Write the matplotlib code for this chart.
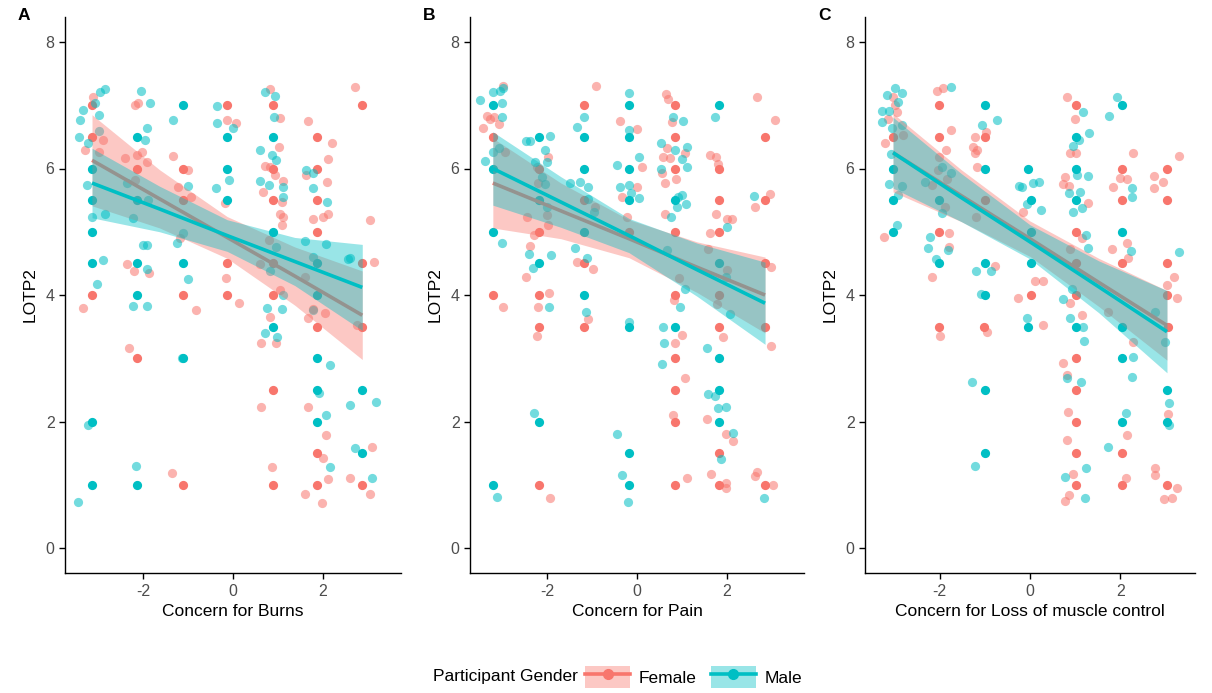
import matplotlib
matplotlib.use("Agg")
import matplotlib.pyplot as plt
from matplotlib.patches import Patch
from matplotlib.lines import Line2D

plt.rcParams["font.family"] = ["Liberation Sans", "DejaVu Sans"]
plt.rcParams["axes.unicode_minus"] = False

FEMALE = "#F8766D"
MALE = "#00BFC4"

# ---------------- data ----------------
# Panel A: Concern for Burns
burns_female_solid = [(-3.13, 7.0), (-3.13, 6.5), (-3.13, 4.0), (-2.13, 6.0), (-2.13, 3.0), (-1.11, 6.0),
                      (-1.11, 5.5), (-1.11, 4.0), (-1.11, 1.0), (-0.13, 7.0), (-0.13, 4.5), (-0.13, 4.0),
                      (0.89, 7.0), (0.89, 6.0), (0.89, 5.5), (0.89, 4.5), (0.89, 4.0), (0.89, 2.5), (0.89, 1.0),
                      (1.87, 6.5), (1.87, 6.0), (1.87, 5.5), (1.87, 5.0), (1.87, 3.5), (1.87, 1.5), (1.87, 1.0),
                      (2.87, 7.0), (2.87, 4.5), (2.87, 3.5), (2.87, 1.0)]
burns_female_jit = [(-3.11, 7.13), (-2.89, 6.45), (-3.29, 6.29), (-3.33, 3.79), (-2.18, 7.0), (-2.11, 7.03),
                    (-2.02, 6.26), (-1.91, 6.1), (-2.13, 6.21), (-2.36, 4.49), (-2.2, 4.38), (-1.87, 4.35),
                    (-1.33, 6.2), (-1.0, 5.98), (-0.82, 3.76), (-2.31, 3.16), (-1.36, 1.18), (-0.13, 6.77),
                    (0.07, 6.72), (-0.18, 5.45), (-0.16, 4.27), (0.13, 3.87), (0.82, 7.26), (1.04, 6.8),
                    (1.02, 6.34), (0.71, 6.04), (0.93, 5.9), (1.11, 5.8), (0.67, 5.63), (1.04, 5.28),
                    (1.11, 5.23), (1.09, 5.1), (0.82, 3.65), (0.62, 3.24), (0.96, 3.24), (0.62, 2.23),
                    (0.87, 1.28), (1.67, 6.75), (2.2, 6.4), (2.11, 6.15), (1.62, 5.9), (2.09, 5.79),
                    (1.78, 5.2), (2.0, 5.23), (2.11, 5.28), (2.04, 3.72), (1.67, 3.63), (1.67, 2.23),
                    (2.07, 1.79), (2.0, 1.42), (2.11, 1.09), (1.6, 0.85), (1.98, 0.71), (2.71, 7.29),
                    (3.04, 5.19), (3.13, 4.52), (2.76, 3.52), (3.09, 1.6), (2.6, 1.1), (3.04, 0.85),
                    (-2.98, 6.26), (-2.4, 6.17), (-2.18, 5.82), (-1.22, 5.71), (-0.93, 5.55), (-1.18, 4.9),
                    (0.82, 6.02), (1.09, 5.47), (0.8, 4.87), (0.6, 4.49), (1.04, 4.08), (1.6, 4.28), (1.78, 3.78)]
burns_male_solid = [(-3.13, 6.0), (-3.13, 5.5), (-3.13, 5.0), (-3.13, 4.5), (-3.13, 2.0), (-3.13, 1.0),
                    (-2.13, 6.5), (-2.13, 5.5), (-2.13, 4.5), (-2.13, 4.0), (-2.13, 1.0), (-1.11, 7.0),
                    (-1.11, 4.5), (-1.11, 3.0), (-0.13, 6.5), (-0.13, 6.0), (-0.13, 5.5), (0.89, 6.5),
                    (0.89, 5.0), (0.89, 3.5), (1.87, 4.5), (1.87, 4.0), (1.87, 3.0), (1.87, 2.5), (1.87, 2.0),
                    (2.87, 2.5), (2.87, 1.5)]
burns_male_jit = [(-2.84, 7.26), (-2.96, 7.21), (-3.07, 7.03), (-3.33, 6.92), (-3.4, 6.77), (-2.98, 6.85),
                  (-3.42, 6.5), (-3.22, 6.4), (-3.24, 5.74), (-3.13, 5.23), (-2.84, 5.28), (-2.89, 4.55),
                  (-3.02, 4.17), (-3.22, 1.95), (-3.44, 0.73), (-2.04, 7.22), (-1.84, 7.03), (-1.91, 6.64),
                  (-1.96, 6.45), (-2.22, 5.22), (-2.0, 4.79), (-1.91, 4.79), (-1.91, 4.41), (-2.22, 3.83),
                  (-1.91, 3.83), (-2.16, 1.3), (-1.33, 6.77), (-1.0, 5.72), (-1.25, 4.82), (-1.0, 4.25),
                  (-1.13, 3.0), (-0.36, 6.99), (-0.36, 6.72), (0.0, 6.64), (-0.09, 5.82), (-0.38, 5.69),
                  (0.71, 7.21), (0.93, 7.15), (0.91, 6.81), (0.6, 6.29), (0.87, 6.21), (0.96, 6.13),
                  (0.6, 5.8), (0.8, 5.74), (1.11, 5.55), (1.11, 4.0), (0.76, 3.79), (1.09, 3.78),
                  (0.71, 3.4), (0.98, 3.34), (1.78, 5.93), (1.78, 5.69), (2.09, 5.47), (1.6, 4.85),
                  (2.07, 4.8), (1.78, 4.6), (2.56, 4.57), (2.16, 2.89), (1.91, 2.45), (2.07, 2.1),
                  (2.16, 1.28), (2.6, 4.58), (3.18, 2.31), (2.6, 2.26), (2.71, 1.58), (3.09, 1.1),
                  (-2.98, 6.6), (-2.36, 5.77), (-1.89, 5.5), (-1.11, 4.98), (1.11, 5.71), (0.96, 4.76),
                  (0.82, 4.38), (1.62, 5.98), (1.78, 3.76)]

# Panel B: Concern for Pain
pain_female_solid = [(-3.22, 6.5), (-3.22, 4.0), (-2.19, 6.0), (-2.19, 5.0), (-2.19, 4.0), (-2.19, 3.5),
                     (-2.19, 1.0), (-1.18, 7.0), (-1.18, 5.5), (-1.18, 4.5), (-1.18, 3.5), (-0.18, 5.0),
                     (0.85, 7.0), (0.85, 6.5), (0.85, 6.0), (0.85, 5.0), (0.85, 4.0), (0.85, 3.0), (0.85, 2.5),
                     (0.85, 2.0), (0.85, 1.0), (1.83, 6.0), (1.83, 5.5), (1.83, 5.0), (1.83, 4.0), (1.83, 3.5),
                     (1.83, 1.5), (1.83, 1.0), (2.86, 6.5), (2.86, 5.5), (2.86, 4.5), (2.86, 3.5), (2.86, 1.0)]
pain_female_jit = [(-2.99, 7.3), (-3.35, 6.83), (-3.2, 6.81), (-3.44, 6.64), (-3.08, 6.7), (-2.99, 3.81),
                   (-1.99, 6.18), (-1.99, 5.1), (-2.3, 4.95), (-2.39, 4.77), (-2.48, 4.28), (-1.97, 4.03),
                   (-2.21, 3.81), (-2.23, 3.35), (-1.94, 0.79), (-0.92, 7.3), (-1.34, 4.52), (-0.98, 4.41),
                   (-1.09, 3.62), (-0.38, 6.75), (0.0, 6.62), (0.11, 6.02), (0.0, 5.71), (-0.34, 5.55),
                   (0.65, 7.18), (0.69, 7.1), (0.78, 6.73), (0.67, 6.32), (0.58, 6.18), (0.74, 6.17),
                   (1.07, 6.24), (0.56, 5.93), (0.87, 5.83), (0.63, 5.77), (0.63, 5.28), (0.83, 3.92),
                   (1.01, 3.37), (0.85, 3.24), (1.07, 2.69), (0.8, 2.1), (1.12, 1.1), (1.63, 6.21),
                   (1.81, 6.07), (1.77, 5.28), (2.01, 5.2), (2.12, 5.2), (1.63, 4.98), (1.92, 3.34),
                   (1.56, 2.04), (1.99, 1.8), (2.15, 1.69), (1.65, 1.17), (1.99, 1.03), (1.99, 0.95),
                   (2.68, 1.2), (2.64, 1.14), (2.68, 7.13), (3.08, 6.77), (2.64, 5.39), (2.97, 5.6),
                   (3.0, 4.45), (3.0, 3.2), (3.04, 1.0), (-3.28, 6.78), (-2.95, 6.26), (-2.23, 6.02),
                   (-2.21, 5.77), (-2.46, 5.23), (-2.01, 5.26), (-0.94, 5.39), (-0.22, 5.23), (0.94, 4.27),
                   (1.77, 6.18), (1.59, 4.73), (2.01, 4.4), (1.79, 3.86)]
pain_male_solid = [(-3.22, 7.0), (-3.22, 6.0), (-3.22, 5.0), (-3.22, 1.0), (-2.19, 6.5), (-2.19, 5.5),
                   (-2.19, 4.5), (-2.19, 2.0), (-1.18, 6.5), (-1.18, 6.0), (-1.18, 5.0), (-1.18, 4.0),
                   (-0.18, 7.0), (-0.18, 6.5), (-0.18, 6.0), (-0.18, 5.5), (-0.18, 3.5), (-0.18, 1.5),
                   (-0.18, 1.0), (0.85, 5.5), (0.85, 3.5), (1.83, 7.0), (1.83, 4.5), (1.83, 3.0),
                   (1.83, 2.5), (1.83, 2.0)]
pain_male_jit = [(-3.51, 7.08), (-3.22, 7.21), (-3.06, 7.23), (-2.99, 7.27), (-3.02, 7.04), (-3.02, 6.81),
                 (-3.22, 6.26), (-3.4, 6.12), (-3.02, 4.82), (-3.13, 0.81), (-2.48, 6.43), (-2.39, 6.43),
                 (-1.94, 6.51), (-2.06, 6.29), (-2.01, 6.1), (-2.28, 6.1), (-2.41, 4.65), (-1.92, 4.63),
                 (-2.32, 4.43), (-1.97, 3.81), (-2.3, 2.13), (-1.18, 6.81), (-1.34, 6.66), (-1.5, 5.77),
                 (-1.27, 5.79), (-1.09, 5.71), (-1.39, 4.74), (-1.12, 4.58), (-1.14, 3.73), (-0.18, 7.19),
                 (-0.18, 6.61), (0.04, 6.18), (-0.45, 6.06), (-0.38, 5.71), (-0.18, 5.74), (-0.13, 5.61),
                 (0.04, 5.53), (-0.18, 3.57), (-0.45, 1.8), (-0.34, 1.15), (-0.2, 0.73), (0.8, 6.81),
                 (1.03, 6.75), (0.54, 6.4), (0.85, 6.29), (1.12, 6.34), (1.01, 6.15), (0.54, 6.0),
                 (1.12, 6.02), (0.92, 5.55), (1.01, 5.58), (1.09, 5.44), (0.89, 5.39), (0.76, 5.23),
                 (0.96, 3.81), (0.58, 3.5), (0.6, 3.24), (0.56, 2.91), (1.74, 6.81), (2.01, 5.08),
                 (2.08, 3.7), (2.61, 5.57), (1.56, 3.16), (1.59, 2.43), (1.74, 2.4), (1.81, 2.21),
                 (1.99, 2.23), (2.15, 1.82), (1.88, 1.41), (2.83, 0.79), (-3.08, 6.32), (-2.12, 5.87),
                 (-2.06, 5.76), (-2.01, 5.39), (-1.09, 5.52), (-0.96, 5.31), (0.67, 4.71), (1.07, 4.09),
                 (1.99, 4.28)]

# Panel C: Concern for Loss of muscle control
muscle_female_solid = [(-3.03, 6.5), (-2.01, 7.0), (-2.01, 6.5), (-2.01, 5.0), (-2.01, 3.5), (-0.99, 6.5),
                       (-0.99, 5.5), (-1.02, 3.5), (0.02, 4.0), (1.02, 7.0), (1.02, 5.0), (1.02, 4.5),
                       (1.02, 4.0), (1.02, 3.0), (1.02, 2.5), (1.02, 2.0), (1.02, 1.5), (1.02, 1.0),
                       (2.03, 6.0), (2.03, 5.5), (2.03, 4.5), (2.03, 1.5), (2.03, 1.0), (3.03, 6.0),
                       (3.03, 5.5), (3.03, 4.5), (3.03, 4.0), (3.05, 3.5), (3.03, 1.0)]
muscle_female_jit = [(-3.03, 7.13), (-2.94, 6.89), (-3.14, 6.78), (-3.2, 6.4), (-3.23, 4.92), (-2.06, 7.23),
                     (-1.92, 7.27), (-1.86, 6.29), (-1.79, 4.98), (-1.79, 4.76), (-2.17, 4.28), (-1.99, 3.35),
                     (-0.97, 6.58), (-1.22, 6.5), (-1.26, 6.34), (-1.22, 6.24), (-1.17, 6.02), (-0.77, 4.46),
                     (-0.27, 3.95), (-0.15, 5.31), (-0.95, 3.42), (0.11, 4.22), (0.29, 4.22), (0.29, 3.53),
                     (0.82, 7.13), (0.99, 6.78), (0.88, 6.24), (1.02, 6.24), (0.77, 5.87), (0.73, 5.75),
                     (0.86, 5.72), (1.28, 5.45), (1.15, 4.9), (0.88, 3.87), (1.15, 3.68), (0.73, 2.92),
                     (0.84, 2.15), (0.82, 1.71), (0.86, 0.84), (0.77, 0.74), (2.28, 6.24), (1.99, 5.85),
                     (2.14, 5.83), (1.83, 5.71), (1.81, 4.73), (2.14, 4.82), (2.17, 4.58), (2.14, 1.79),
                     (2.12, 1.11), (3.29, 6.2), (2.74, 5.88), (2.94, 5.79), (2.74, 5.69), (3.18, 4.28),
                     (3.03, 4.16), (3.25, 3.95), (3.05, 2.12), (2.76, 1.26), (2.76, 1.15), (3.25, 0.95),
                     (2.96, 0.77), (3.14, 0.79), (-2.98, 7.0), (-2.81, 6.53), (-1.75, 6.61), (-2.01, 6.18),
                     (-2.03, 5.98), (-1.83, 5.83), (-2.17, 5.74), (-1.88, 5.39), (-1.17, 6.29), (-1.19, 5.23),
                     (0.88, 4.73), (1.72, 3.73), (2.28, 3.26), (0.82, 2.74), (0.95, 1.17)]
muscle_male_solid = [(-3.03, 6.0), (-3.03, 5.5), (-3.03, 5.0), (-2.01, 5.5), (-2.01, 4.5), (-0.99, 7.0),
                     (-0.99, 6.0), (-0.99, 4.5), (-0.99, 4.0), (-0.99, 2.5), (-0.99, 1.5), (-0.04, 6.0),
                     (0.02, 5.5), (0.02, 5.0), (0.02, 4.5), (-0.04, 3.5), (1.02, 6.5), (1.02, 6.0),
                     (1.02, 5.5), (1.02, 3.5), (2.03, 7.0), (2.03, 5.0), (2.03, 3.5), (2.03, 3.0),
                     (2.03, 2.0), (3.03, 2.5), (3.03, 2.0)]
muscle_male_jit = [(-2.98, 7.27), (-2.83, 7.19), (-3.16, 7.16), (-2.92, 7.05), (-3.27, 6.91), (-3.12, 6.91),
                   (-3.27, 6.74), (-3.05, 6.64), (-3.07, 6.23), (-3.12, 5.75), (-2.92, 5.58), (-2.94, 5.1),
                   (-1.75, 7.29), (-1.94, 5.3), (-2.21, 4.92), (-2.25, 4.74), (-1.81, 4.71), (-2.08, 4.57),
                   (-0.73, 6.77), (-1.06, 6.69), (-1.19, 4.38), (-0.86, 4.38), (-1.08, 4.02), (-1.28, 2.63),
                   (-1.22, 1.3), (-0.24, 5.72), (0.07, 5.77), (0.2, 5.79), (-0.18, 5.71), (-0.07, 5.44),
                   (0.24, 5.34), (-0.07, 3.63), (0.73, 3.94), (0.93, 4.09), (1.17, 6.89), (1.3, 6.56),
                   (1.08, 6.45), (0.95, 6.36), (1.04, 5.9), (1.28, 5.88), (1.1, 5.63), (0.86, 5.61),
                   (1.15, 5.38), (0.95, 5.31), (1.24, 4.95), (1.28, 4.74), (0.88, 3.63), (1.17, 3.5),
                   (1.19, 3.28), (0.82, 2.69), (1.13, 2.63), (1.24, 1.26), (0.77, 1.12), (1.22, 0.79),
                   (1.92, 7.13), (1.75, 6.83), (2.25, 5.69), (2.25, 5.55), (2.23, 4.7), (2.28, 3.02),
                   (2.25, 2.7), (2.12, 2.13), (1.72, 1.6), (3.29, 4.68), (3.07, 2.3), (3.07, 1.95),
                   (-2.83, 6.69), (-2.83, 5.72), (-1.94, 6.02), (-1.75, 5.93), (-2.32, 5.79), (2.76, 3.73),
                   (2.98, 3.26)]

# fitted lines with 95% bands (x, fit, lower, upper)
burns_fit_x = [-3.13, -1.63, -0.13, 1.37, 2.87]
burns_female_fit = [6.13, 5.52, 4.91, 4.30, 3.68]
burns_female_lo = [5.41, 5.06, 4.58, 3.84, 2.98]
burns_female_hi = [6.85, 5.98, 5.24, 4.76, 4.38]
burns_male_fit = [5.77, 5.36, 4.94, 4.53, 4.12]
burns_male_lo = [5.22, 5.00, 4.69, 4.15, 3.44]
burns_male_hi = [6.32, 5.72, 5.19, 4.91, 4.80]

pain_fit_x = [-3.22, -1.70, -0.18, 1.34, 2.86]
pain_female_fit = [5.77, 5.33, 4.89, 4.44, 4.00]
pain_female_lo = [5.06, 4.89, 4.59, 4.04, 3.40]
pain_female_hi = [6.48, 5.77, 5.19, 4.84, 4.60]
pain_male_fit = [6.00, 5.47, 4.94, 4.40, 3.87]
pain_male_lo = [5.42, 5.07, 4.67, 3.98, 3.22]
pain_male_hi = [6.58, 5.87, 5.21, 4.82, 4.52]

muscle_fit_x = [-3.03, -1.52, 0.0, 1.52, 3.03]
muscle_female_fit = [6.25, 5.57, 4.89, 4.20, 3.52]
muscle_female_lo = [5.63, 5.16, 4.61, 3.82, 2.97]
muscle_female_hi = [6.87, 5.98, 5.17, 4.58, 4.07]
muscle_male_fit = [6.25, 5.54, 4.84, 4.13, 3.42]
muscle_male_lo = [5.69, 5.16, 4.57, 3.72, 2.77]
muscle_male_hi = [6.81, 5.92, 5.11, 4.54, 4.07]

panel_letters = ["A", "B", "C"]
x_labels = ["Concern for Burns", "Concern for Pain", "Concern for Loss of muscle control"]
y_label = "LOTP2"
genders = ["Female", "Male"]

panels = [
    dict(f_solid=burns_female_solid, f_jit=burns_female_jit, m_solid=burns_male_solid, m_jit=burns_male_jit,
         x=burns_fit_x, f=(burns_female_fit, burns_female_lo, burns_female_hi),
         m=(burns_male_fit, burns_male_lo, burns_male_hi)),
    dict(f_solid=pain_female_solid, f_jit=pain_female_jit, m_solid=pain_male_solid, m_jit=pain_male_jit,
         x=pain_fit_x, f=(pain_female_fit, pain_female_lo, pain_female_hi),
         m=(pain_male_fit, pain_male_lo, pain_male_hi)),
    dict(f_solid=muscle_female_solid, f_jit=muscle_female_jit, m_solid=muscle_male_solid, m_jit=muscle_male_jit,
         x=muscle_fit_x, f=(muscle_female_fit, muscle_female_lo, muscle_female_hi),
         m=(muscle_male_fit, muscle_male_lo, muscle_male_hi)),
]

# ---------------- layout ----------------
W, H = 1212, 693
fig = plt.figure(figsize=(W / 100, H / 100), dpi=100)

# axes boxes in pixels: (left, right), shared top/bottom
ax_px = [(65, 401), (470, 804), (865, 1195)]
x_lims = [(-3.73, 3.73), (-3.73, 3.73), (-3.65, 3.65)]
top_px, bot_px = 16.7, 573.3

for i, p in enumerate(panels):
    l, r = ax_px[i]
    ax = fig.add_axes([l / W, (H - bot_px) / H, (r - l) / W, (bot_px - top_px) / H])

    for pts, col, a in [(p["f_solid"], FEMALE, 1.0), (p["f_jit"], FEMALE, 0.55),
                        (p["m_solid"], MALE, 1.0), (p["m_jit"], MALE, 0.55)]:
        xs, ys = zip(*pts)
        ax.scatter(xs, ys, s=44, color=col, alpha=a, linewidths=0, zorder=2)

    for (fit, lo, hi), col in [(p["f"], FEMALE), (p["m"], MALE)]:
        ax.fill_between(p["x"], lo, hi, color=col, alpha=0.4, linewidth=0, zorder=3)
        ax.plot(p["x"], fit, color=col, lw=2.6, zorder=3, solid_capstyle="butt")

    ax.set_xlim(*x_lims[i])
    ax.set_ylim(-0.4, 8.4)
    ax.set_xticks([-2, 0, 2])
    ax.set_yticks([0, 2, 4, 6, 8])
    for s in ["top", "right"]:
        ax.spines[s].set_visible(False)
    for s in ["left", "bottom"]:
        ax.spines[s].set_linewidth(1.0)
    ax.tick_params(labelsize=11.5, labelcolor="#4D4D4D", length=4, width=1.0)
    ax.set_xlabel(x_labels[i], fontsize=12.5, labelpad=4)
    ax.set_ylabel(y_label, fontsize=12.5, labelpad=6)

    fig.text((l - 47) / W, 1 - 15 / H, panel_letters[i], fontsize=12.5, fontweight="bold",
             ha="left", va="center")

# legend at the bottom
handles = [(Patch(facecolor=c, alpha=0.4, edgecolor="none"),
            Line2D([], [], color=c, lw=2.6, marker="o", markersize=7)) for c in (FEMALE, MALE)]
fig.text(578 / W, 1 - 677 / H, "Participant Gender", fontsize=12.5, ha="right", va="center")
fig.legend(handles, genders, loc="center left", bbox_to_anchor=(578 / W, 1 - 677 / H),
           ncol=2, frameon=False, fontsize=12.5, handlelength=2.6, handleheight=1.6,
           columnspacing=0.8, handletextpad=0.5, borderaxespad=0)

fig.savefig("out.png", dpi=100)
